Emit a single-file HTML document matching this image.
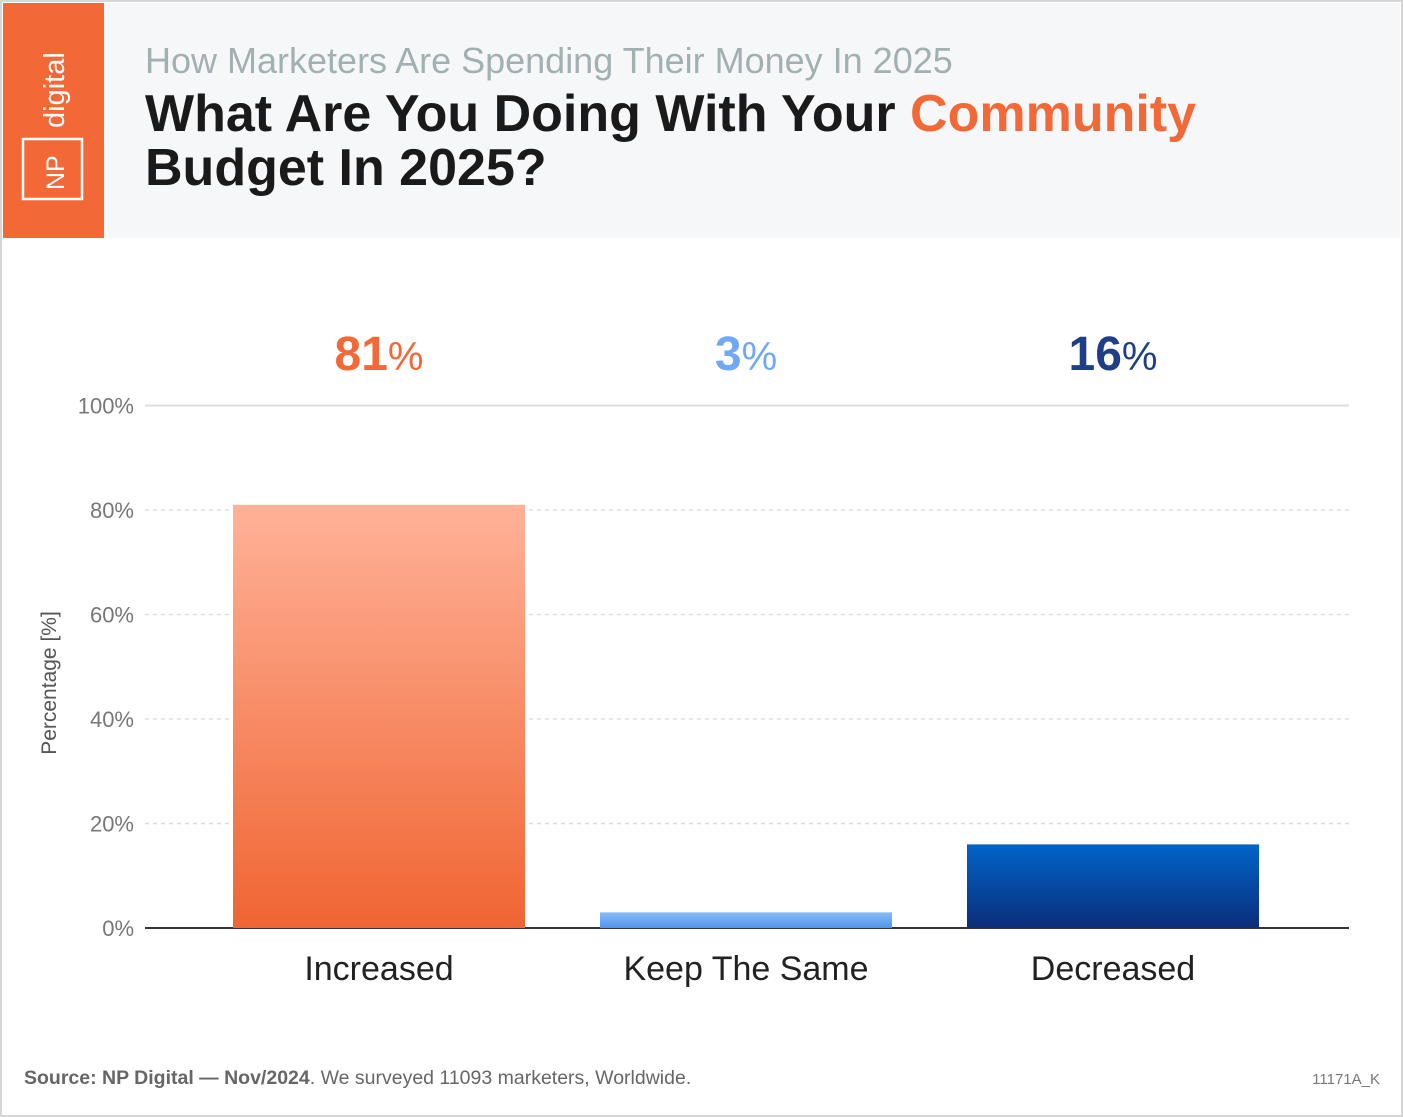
<!DOCTYPE html>
<html><head><meta charset="utf-8">
<style>
body{margin:0;background:#fff;font-family:"Liberation Sans",sans-serif;}
#wrap{position:relative;width:1403px;height:1117px;overflow:hidden;background:#fff;}
</style></head><body>
<div id="wrap">
<svg width="1403" height="1117" id="svg">
<defs>
<linearGradient id="gO" x1="0" y1="0" x2="0" y2="1"><stop offset="0" stop-color="#ffb298"/><stop offset="1" stop-color="#f06533"/></linearGradient>
<linearGradient id="gL" x1="0" y1="0" x2="0" y2="1"><stop offset="0" stop-color="#8bbcf6"/><stop offset="1" stop-color="#4e95ee"/></linearGradient>
<linearGradient id="gD" x1="0" y1="0" x2="0" y2="1"><stop offset="0" stop-color="#0164c9"/><stop offset="1" stop-color="#0c2d7a"/></linearGradient>
</defs>
<rect x="1" y="1" width="1401" height="1115" fill="#fff" stroke="#d6d6d6" stroke-width="2"/>
<rect x="3" y="3" width="1397" height="235" fill="#f6f7f9"/>
<rect x="3" y="3" width="101" height="235" fill="#f26836"/>
<rect x="23" y="139" width="59" height="60" fill="none" stroke="#fff" stroke-width="2.5"/>
<text transform="translate(64,190) rotate(-90)" font-size="25" fill="#fff">NP</text>
<text transform="translate(64,128) rotate(-90)" font-size="29" fill="#fff">digital</text>
<text x="145" y="73" font-size="36" fill="#a3b0b1">How Marketers Are Spending Their Money In 2025</text>
<text x="145" y="131" font-size="52" font-weight="bold" fill="#1a1a1a">What Are You Doing With Your <tspan fill="#f26836">Community</tspan></text>
<text x="145" y="185" font-size="52" font-weight="bold" fill="#1a1a1a">Budget In 2025?</text>
<g id="plot"></g>
<text transform="translate(56,683) rotate(-90)" text-anchor="middle" font-size="21" fill="#555">Percentage [%]</text>
<text x="24" y="1084" font-size="19.5" fill="#666"><tspan font-weight="bold">Source:  NP Digital — Nov/2024</tspan>. We surveyed 11093 marketers, Worldwide.</text>
<text x="1380" y="1084" font-size="15" fill="#777" text-anchor="end">11171A_K</text>
</svg>
</div>
<script>
const categories=["Increased","Keep The Same","Decreased"];
const values=[81,3,16];
const labelColors=["#f26836","#70a8f3","#1e3f86"];
const fills=["url(#gO)","url(#gL)","url(#gD)"];
const ticks=[0,20,40,60,80,100];
const NS="http://www.w3.org/2000/svg";
const g=document.getElementById("plot");
const y=v=>928-v*5.225;
const bandStart=195.5,bandW=367,barW=292;
const xc=i=>bandStart+bandW*i+bandW/2;
function mk(t,a){const e=document.createElementNS(NS,t);for(const k in a)e.setAttribute(k,a[k]);g.appendChild(e);return e;}
ticks.forEach(t=>{
  const l=mk("line",{x1:145,x2:1349,y1:y(t),y2:y(t),stroke:t===0?"#333":"#ddd","stroke-width":t===0?2:(t===100?2:1.5),"stroke-dasharray":(t===0||t===100)?"none":"4 4"});
  
  
  const tx=mk("text",{x:134,y:y(t)+8,"text-anchor":"end","font-size":22,fill:"#777"});
  tx.textContent=t+"%";
  
  
});
values.forEach((v,i)=>{
  const r=mk("rect",{x:xc(i)-barW/2,y:y(v),width:barW,height:928-y(v),fill:fills[i]});
  
  
  const c=mk("text",{x:xc(i),y:980,"text-anchor":"middle","font-size":34,fill:"#222"});
  c.textContent=categories[i];
  
  
  const vl=mk("text",{x:xc(i),y:370,"text-anchor":"middle","font-size":48,"font-weight":"bold",fill:labelColors[i]});
  vl.innerHTML=v+'<tspan font-weight="normal" font-size="40">%</tspan>';
  
  
});
</script>
</body></html>
